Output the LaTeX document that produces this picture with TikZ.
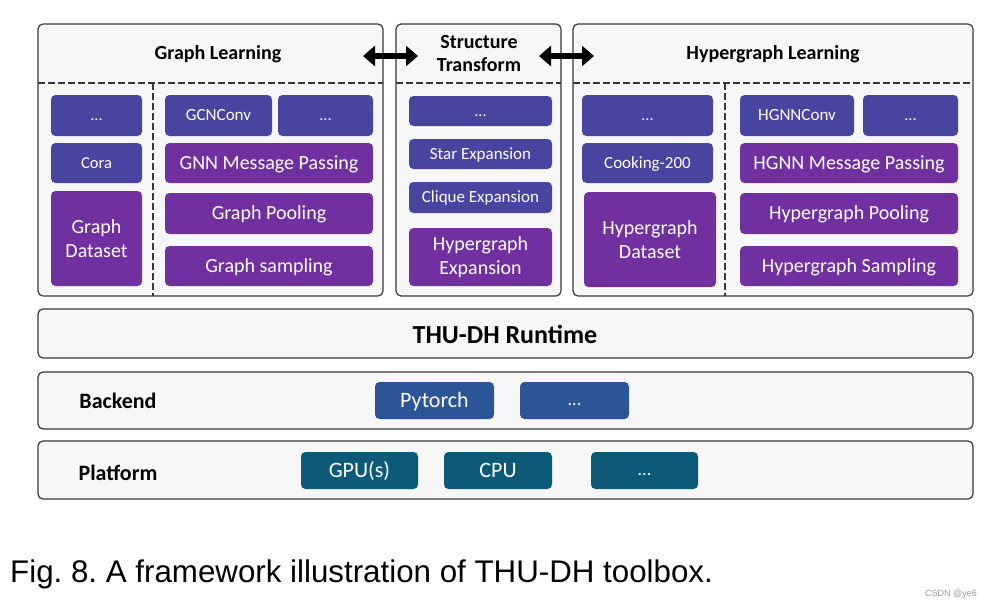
\documentclass[tikz,border=0pt]{standalone}
\usepackage{fontspec}
\setmainfont{Carlito}
\newfontfamily\capfont{Liberation Sans}
\usetikzlibrary{arrows.meta}
\definecolor{panelfill}{HTML}{F7F7F7}
\definecolor{paneldraw}{HTML}{383838}
\definecolor{indigo}{HTML}{4845A0}
\definecolor{violet}{HTML}{7030A0}
\definecolor{cobalt}{HTML}{2B5597}
\definecolor{teal}{HTML}{0D5A78}
\tikzset{
  panel/.style={draw=paneldraw, line width=1.2pt, fill=panelfill, rounded corners=5pt, inner sep=0pt, outer sep=0pt},
  cell/.style={rounded corners=4.5pt, inner sep=0pt, outer sep=0pt, text=white},
  ic/.style={cell, fill=indigo},
  vc/.style={cell, fill=violet},
  bc/.style={cell, fill=cobalt},
  tc/.style={cell, fill=teal},
  celltext/.style={text=white, inner sep=0pt, anchor=base},
  sep/.style={draw=paneldraw, line width=1.2pt, dash pattern=on 7pt off 3pt},
  title/.style={font=\bfseries\fontsize{20}{24}\selectfont, align=center, inner sep=0pt},
  blk/.style={line width=6pt, {Triangle[width=20pt,length=12pt]}-{Triangle[width=20pt,length=12pt]}},
  ft/.style={font=\fontsize{#1}{24}\selectfont, align=center}
}
% box only: \bb{name}{style}{x1}{y1}{x2}{y2}{text}
\newcommand{\bb}[7]{\node[#2, minimum width={(#5-#3)*1pt}, minimum height={(#6-#4)*1pt}] (#1) at ({(#3+#5)/2},{(#4+#6)/2}) {#7};}
% box with one line of text: \bx{name}{style}{size}{x1}{y1}{x2}{y2}{text}; baseline at centre + 0.322 size
\newcommand{\bx}[8]{\bb{#1}{#2}{#4}{#5}{#6}{#7}{}
  \node[celltext, font=\fontsize{#3}{#3}\selectfont] (#1t) at ({(#4+#6)/2},{(#5+#7)/2+0.322*#3}) {#8};}
% box with dots: baseline at centre + 5
\newcommand{\bd}[7]{\bb{#1}{#2}{#4}{#5}{#6}{#7}{}
  \node[celltext, font=\fontsize{#3}{#3}\selectfont] (#1t) at ({(#4+#6)/2},{(#5+#7)/2+5}) {...};}
\begin{document}
\frenchspacing
\begin{tikzpicture}[x=1pt,y=-1pt]
\useasboundingbox (0,0) rectangle (988,608);
\fill[white] (0,0) rectangle (988,608);
% panels
\bb{gl}{panel}{38}{24}{383}{296}{}
\bb{st}{panel}{396}{24}{561}{296}{}
\bb{hl}{panel}{573}{24}{973}{296}{}
\bb{rt}{panel}{38}{309}{973}{358}{}
\bb{be}{panel}{38}{372}{973}{429}{}
\bb{pf}{panel}{38}{441}{973}{499}{}
% separators
\draw[sep] (gl.west |- 0,83) -- (gl.east |- 0,83);
\draw[sep] (st.west |- 0,83) -- (st.east |- 0,83);
\draw[sep] (hl.west |- 0,83) -- (hl.east |- 0,83);
\draw[sep] (153,83) -- (153,296);
\draw[sep] (725,83) -- (725,296);
% titles
\node[title] (tgl) at (218,54) {Graph Learning};
\node[title] (tst) at (479,54) {Structure\\[-1pt]Transform};
\node[title] (thl) at (773,54) {Hypergraph Learning};
% graph learning cells
\bd{g1}{ic}{16}{51}{95}{142}{136}
\bx{g2}{ic}{16.5}{51}{143}{142}{183}{Cora}
\bb{g3}{vc,ft=20}{51}{191}{142}{286}{Graph\\Dataset}
\bx{g4}{ic}{17}{165}{95}{272}{136}{GCNConv}
\bd{g5}{ic}{16}{278}{95}{373}{136}
\bx{g6}{vc}{20}{165}{143}{373}{183}{GNN Message Passing}
\bx{g7}{vc}{20}{165}{193}{373}{234}{Graph Pooling}
\bx{g8}{vc}{20}{165}{246}{373}{286}{Graph sampling}
% structure transform cells
\bd{s1}{ic}{16}{409}{96}{552}{126}
\bx{s2}{ic}{17}{409}{139}{552}{169}{Star Expansion}
\bx{s3}{ic}{17}{409}{182}{552}{213}{Clique Expansion}
\bb{s4}{vc,ft=20}{409}{228}{552}{286}{Hypergraph\\Expansion}
% hypergraph learning cells
\bd{h1}{ic}{16}{582}{95}{713}{136}
\bx{h2}{ic}{17}{582}{143}{713}{183}{Cooking-200}
\bb{h3}{vc,ft=20}{584}{192}{716}{287}{Hypergraph\\Dataset}
\bx{h4}{ic}{17}{740}{95}{854}{136}{HGNNConv}
\bd{h5}{ic}{16}{863}{95}{958}{136}
\bx{h6}{vc}{20}{740}{143}{958}{183}{HGNN Message Passing}
\bx{h7}{vc}{20}{740}{193}{958}{234}{Hypergraph Pooling}
\bx{h8}{vc}{20}{740}{246}{958}{286}{Hypergraph Sampling}
% arrows
\coordinate (a1l) at (363,56);
\coordinate (a1r) at (418,56);
\coordinate (a2l) at (539,56);
\coordinate (a2r) at (594,56);
\draw[blk] (a1l) -- (a1r);
\draw[blk] (a2l) -- (a2r);
% runtime, backend, platform
\node[font=\bfseries\fontsize{26}{30}\selectfont, inner sep=0pt] (trt) at (505,334) {THU-DH Runtime};
\node[font=\bfseries\fontsize{22}{26}\selectfont, inner sep=0pt] (tbe) at (118,401) {Backend};
\node[font=\bfseries\fontsize{22}{26}\selectfont, inner sep=0pt] (tpf) at (118,473) {Platform};
\bx{b1}{bc}{22}{375}{382}{494}{419}{Pytorch}
\bd{b2}{bc}{18}{520}{382}{629}{419}
\bx{p1}{tc}{22}{301}{452}{418}{489}{GPU(s)}
\bx{p2}{tc}{22}{444}{452}{552}{489}{CPU}
\bd{p3}{tc}{18}{591}{452}{698}{489}
% caption
\node[font=\capfont\fontsize{31.3}{36}\selectfont, anchor=base west, inner sep=0pt] (cap) at (10,582) {Fig. 8. A framework illustration of THU-DH toolbox.};
\node[font=\capfont\fontsize{9}{10}\selectfont, text=black!40, anchor=base east, inner sep=0pt] (wm) at (977,596) {CSDN @ye6};
\end{tikzpicture}
\end{document}
